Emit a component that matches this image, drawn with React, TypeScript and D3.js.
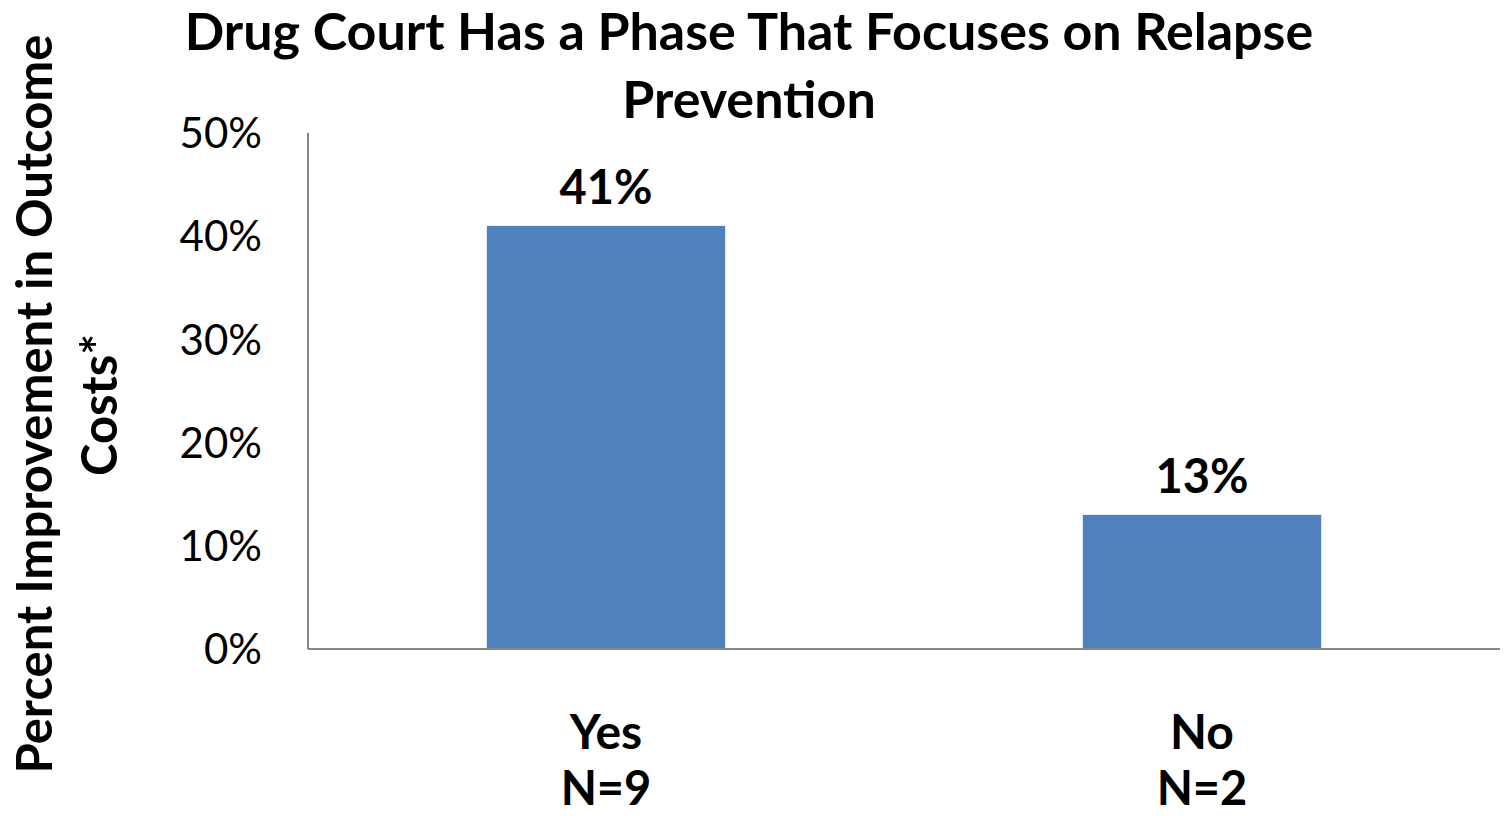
import React from "react";
import * as d3 from "d3";

const categories = ["Yes", "No"];
const sampleSizes = ["N=9", "N=2"];
const values = [41, 13];
const yTicks = [0, 10, 20, 30, 40, 50];
const titleLines = ["Drug Court Has a Phase That Focuses on Relapse", "Prevention"];
const yLabelLines = ["Percent Improvement in Outcome", "Costs*"];

const W = 1506;
const H = 816;
const FONT = "Lato, 'Open Sans', sans-serif";

export default function App() {
  const x = d3.scaleBand<string>().domain(categories).range([308, 1500]).paddingInner(0.6).paddingOuter(0.3);
  const y = d3.scaleLinear().domain([0, 50]).range([649, 133]);
  const axisColor = "#868686";
  return (
    <svg width={W} height={H} style={{ position: "absolute", left: 0, top: 0, background: "#fff" }} fontFamily={FONT}>
      {titleLines.map((t, i) => (
        <text key={t} x={749} y={50 + i * 68} textAnchor="middle" fontSize={52} fontWeight="bold" fill="#000">
          {t}
        </text>
      ))}
      {yLabelLines.map((t, i) => (
        <text
          key={t}
          transform={`translate(${52 + i * 65},${i === 0 ? 404 : 405}) rotate(-90)`}
          textAnchor="middle"
          fontSize={49}
          fontWeight="bold"
          fill="#000"
        >
          {t}
        </text>
      ))}
      {yTicks.map((t) => (
        <text key={t} x={262} y={y(t)} dy="0.36em" textAnchor="end" fontSize={42} fill="#000">
          {`${t}%`}
        </text>
      ))}
      {categories.map((c, i) => (
        <g key={c}>
          <rect x={x(c)} y={y(values[i])} width={x.bandwidth()} height={y(0) - y(values[i])} fill="#4f81bd" />
          <text x={x(c)! + x.bandwidth() / 2} y={y(values[i]) - 22} textAnchor="middle" fontSize={47} fontWeight="bold" fill="#000">
            {`${values[i]}%`}
          </text>
          <text x={x(c)! + x.bandwidth() / 2} y={749} textAnchor="middle" fontSize={48} fontWeight="bold" fill="#000">
            {c}
          </text>
          <text x={x(c)! + x.bandwidth() / 2} y={805} textAnchor="middle" fontSize={47} fontWeight="bold" fill="#000">
            {sampleSizes[i]}
          </text>
        </g>
      ))}
      <line x1={308} x2={308} y1={y(50)} y2={y(0)} stroke={axisColor} strokeWidth={2} />
      <line x1={308} x2={1500} y1={y(0)} y2={y(0)} stroke={axisColor} strokeWidth={2} />
    </svg>
  );
}
